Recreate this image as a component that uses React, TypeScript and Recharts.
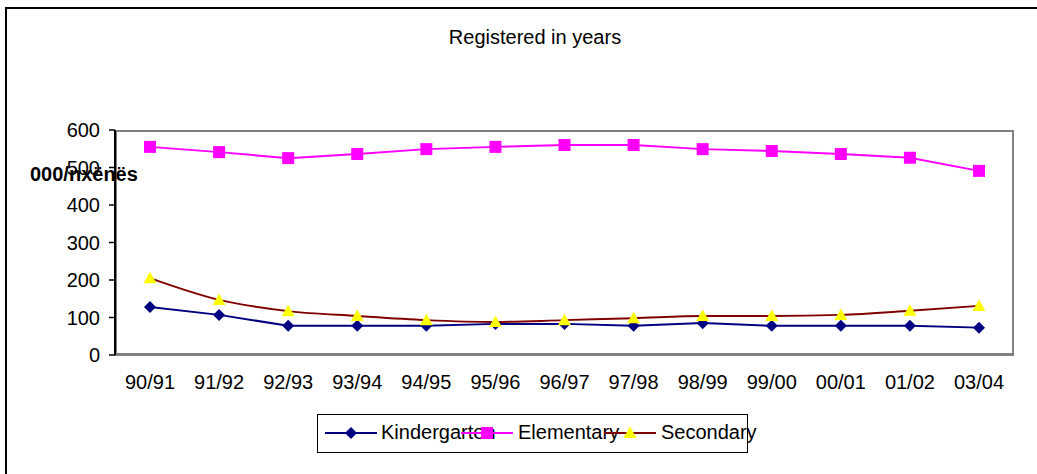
import { LineChart, Line, XAxis, YAxis } from 'recharts';

const categories = ['90/91', '91/92', '92/93', '93/94', '94/95', '95/96', '96/97', '97/98', '98/99', '99/00', '00/01', '01/02', '03/04'];
const kindergarten = [128, 107, 78, 78, 78, 83, 83, 78, 85, 78, 78, 78, 73];
const elementary = [555, 541, 525, 536, 549, 555, 560, 560, 549, 544, 536, 526, 491];
const secondary = [205, 147, 117, 104, 93, 88, 93, 98, 104, 104, 107, 118, 131];
const yTicks = [0, 100, 200, 300, 400, 500, 600];

const data = categories.map((name, i) => ({
    name,
    kindergarten: kindergarten[i],
    elementary: elementary[i],
    secondary: secondary[i],
}));

const FONT = '"Liberation Sans", Arial, sans-serif';

const Diamond = (props: any) => {
    const { cx, cy } = props;
    if (cx == null || cy == null) return null;
    return <path key={`d-${cx}`} d={`M${cx},${cy - 6}L${cx + 6},${cy}L${cx},${cy + 6}L${cx - 6},${cy}Z`} fill="#000080" />;
};

const Square = (props: any) => {
    const { cx, cy } = props;
    if (cx == null || cy == null) return null;
    return <rect key={`s-${cx}`} x={cx - 6} y={cy - 6} width={12} height={12} fill="#FF00FF" />;
};

const Triangle = (props: any) => {
    const { cx, cy } = props;
    if (cx == null || cy == null) return null;
    return <path key={`t-${cx}`} d={`M${cx},${cy - 6.5}L${cx + 6.5},${cy + 5}L${cx - 6.5},${cy + 5}Z`} fill="#FFFF00" />;
};

function LegendIcon({ x, color, marker }: { x: number; color: string; marker: string }) {
    return (
        <svg style={{ position: 'absolute', left: x, top: 10, overflow: 'visible' }} width={52} height={16}>
            <line x1={0} y1={8} x2={52} y2={8} stroke={color} strokeWidth={2} />
            {marker === 'diamond' && <path d="M26,2L32,8L26,14L20,8Z" fill="#000080" />}
            {marker === 'square' && <rect x={20} y={2} width={12} height={12} fill="#FF00FF" />}
            {marker === 'triangle' && <path d="M26,1.5L32.5,13L19.5,13Z" fill="#FFFF00" />}
        </svg>
    );
}

function ChartLegend() {
    const text = { position: 'absolute' as const, top: 7, fontSize: 20, lineHeight: '20px', whiteSpace: 'nowrap' as const };
    return (
        <div style={{ position: 'absolute', left: 317, top: 414, width: 431, height: 39, border: '1px solid #000', boxSizing: 'border-box' }}>
            <LegendIcon x={7} color="#000080" marker="diamond" />
            <div style={{ ...text, left: 63 }}>Kindergarten</div>
            <LegendIcon x={143} color="#FF00FF" marker="square" />
            <div style={{ ...text, left: 200 }}>Elementary</div>
            <LegendIcon x={286} color="#800000" marker="triangle" />
            <div style={{ ...text, left: 343 }}>Secondary</div>
        </div>
    );
}

export default function App() {
    return (
        <div style={{ position: 'absolute', left: 0, top: 0, width: 1037, height: 474, background: '#fff', fontFamily: FONT, color: '#000' }}>
            <div style={{ position: 'absolute', left: 5, top: 7, right: 0, bottom: 0, borderTop: '2px solid #000', borderLeft: '2px solid #000' }} />
            <div style={{ position: 'absolute', left: 0, width: 1070, top: 27, textAlign: 'center', fontSize: 20, lineHeight: '20px' }}>
                Registered in years
            </div>
            <div style={{ position: 'absolute', left: 115, top: 130, width: 899, height: 225, border: '2px solid #808080', boxSizing: 'border-box' }} />
            <div style={{ position: 'absolute', left: 0, top: 0 }}>
                <LineChart width={1037} height={474} data={data} margin={{ top: 130, right: 23, bottom: 79, left: 0 }}>
                    <XAxis
                        dataKey="name"
                        axisLine={{ stroke: '#808080', strokeWidth: 2 }}
                        tickLine={false}
                        tickSize={0}
                        tickMargin={20}
                        height={40}
                        interval={0}
                        padding={{ left: 35, right: 35 }}
                        tick={{ fill: '#000', fontSize: 20, fontFamily: FONT }}
                    />
                    <YAxis
                        domain={[0, 600]}
                        ticks={yTicks}
                        width={115}
                        axisLine={{ stroke: '#000', strokeWidth: 2 }}
                        tickLine={{ stroke: '#000', strokeWidth: 1.5 }}
                        tickSize={6}
                        tickMargin={9}
                        tick={{ fill: '#000', fontSize: 20, fontFamily: FONT }}
                    />
                    <Line type="linear" dataKey="kindergarten" stroke="#000080" strokeWidth={2} dot={Diamond} activeDot={false} isAnimationActive={false} />
                    <Line type="linear" dataKey="elementary" stroke="#FF00FF" strokeWidth={2} dot={Square} activeDot={false} isAnimationActive={false} />
                    <Line type="monotone" dataKey="secondary" stroke="#800000" strokeWidth={2} dot={Triangle} activeDot={false} isAnimationActive={false} />
                </LineChart>
            </div>
            <div style={{ position: 'absolute', left: 30, top: 164, fontSize: 20, lineHeight: '20px', fontWeight: 'bold' }}>000/nxënës</div>
            <ChartLegend />
        </div>
    );
}
